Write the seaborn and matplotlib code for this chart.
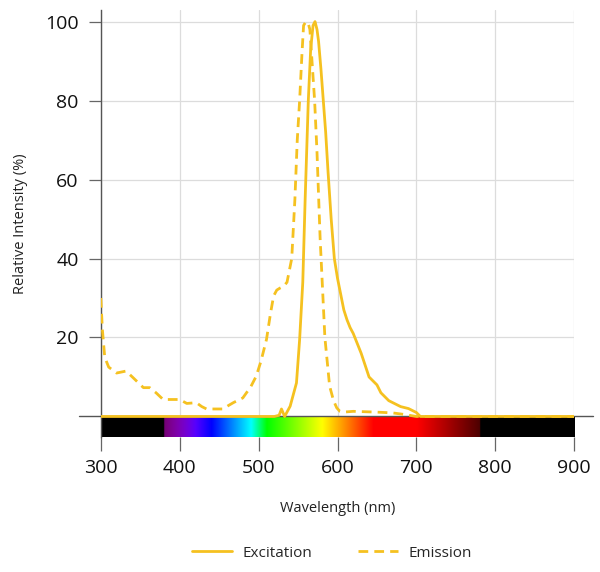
import numpy as np
import pandas as pd
import matplotlib
matplotlib.use("Agg")
import matplotlib.pyplot as plt
import seaborn as sns

# ---- data ----
exc_wl = [300, 520, 526, 529, 533, 540, 548, 552, 556, 559, 563, 566, 569, 571.5, 574,
          576, 579, 582, 585, 588, 592, 596, 600, 604, 608, 612, 616, 620, 625, 630,
          635, 640, 645, 650, 655, 660, 665, 670, 680, 690, 700, 705, 900]
exc_val = [0, 0, 0.3, 1.9, 0, 2.6, 8.5, 19.5, 34, 55, 80, 93, 99, 100, 98,
           95, 88, 80, 72, 62, 50, 40, 35, 31, 27, 24.5, 22.5, 21, 18.5, 16,
           13, 10, 9, 8, 6, 5, 4, 3.5, 2.5, 2, 1, 0, 0]

em_wl = [300, 302, 305, 310, 320, 332, 340, 354, 362, 370, 379, 390, 400, 409, 421,
         428, 434, 445, 455, 462, 468, 480, 490, 497, 503, 510, 515, 519, 523, 527,
         532, 536, 542, 546, 549, 552, 555, 557, 560, 563, 565, 568, 571, 574, 578,
         584, 590, 595, 599, 603, 607, 620, 650, 670, 685, 700, 900]
em_val = [30, 22, 15, 12.5, 11, 11.5, 10, 7.3, 7.3, 6, 4.3, 4.3, 4.3, 3.3, 3.5,
          2.5, 1.9, 1.9, 1.9, 2.8, 3.5, 4.7, 7.5, 10.2, 14, 19.5, 26, 30.5, 32, 32.5,
          33, 34, 40, 55, 70, 80, 92, 99, 100, 99.5, 98, 89, 80, 67, 45,
          20, 7.7, 4, 2.2, 1.3, 1.1, 1.3, 1.1, 0.9, 0.5, 0, 0]

x_ticks = [300, 400, 500, 600, 700, 800, 900]
y_ticks = [20, 40, 60, 80, 100]
series_names = ["Excitation", "Emission"]

COLOR = "#F5C120"

sns.set_theme(style="white")
plt.rcParams["font.family"] = ["Open Sans", "DejaVu Sans"]

fig = plt.figure(figsize=(6.0, 5.72), dpi=100)
ax = fig.add_axes([0.168, 0.236, 0.789, 0.747])

ymin, ymax = -5.2, 103
ax.set_xlim(300, 900)
ax.set_ylim(ymin, ymax)

# grid
for xt in x_ticks:
    ax.axvline(xt, color="#dcdcdc", lw=0.9, zorder=0)
for yt in y_ticks:
    ax.axhline(yt, color="#dcdcdc", lw=0.9, zorder=0)


# spectrum bar (styling)
def wl_to_rgb(w):
    if 380 <= w < 440:
        r, g, b = -(w - 440) / 60, 0.0, 1.0
    elif 440 <= w < 490:
        r, g, b = 0.0, (w - 440) / 50, 1.0
    elif 490 <= w < 510:
        r, g, b = 0.0, 1.0, -(w - 510) / 20
    elif 510 <= w < 580:
        r, g, b = (w - 510) / 70, 1.0, 0.0
    elif 580 <= w < 645:
        r, g, b = 1.0, -(w - 645) / 65, 0.0
    elif 645 <= w <= 780:
        r, g, b = 1.0, 0.0, 0.0
    else:
        return (0, 0, 0)
    if w < 420:
        f = 0.45 + 0.55 * (w - 380) / 40
    elif w > 700:
        f = 0.3 + 0.7 * (780 - w) / 80
    else:
        f = 1.0
    return (r * f, g * f, b * f)

wls = np.linspace(300, 900, 1200)
img = np.array([[wl_to_rgb(w) for w in wls]])
ax.imshow(img, extent=[300, 900, ymin, -0.3], aspect="auto", zorder=1,
          interpolation="bilinear")

# zero line extended beyond axes
ax.axhline(0, xmin=-0.045, xmax=1.04, color="#555555", lw=1.0, clip_on=False, zorder=2)

df_exc = pd.DataFrame({"wl": exc_wl, "val": exc_val})
df_em = pd.DataFrame({"wl": em_wl, "val": em_val})
sns.lineplot(data=df_exc, x="wl", y="val", ax=ax, color=COLOR, lw=2.0,
             label=series_names[0], zorder=4, sort=True)
sns.lineplot(data=df_em, x="wl", y="val", ax=ax, color=COLOR, lw=2.0,
             linestyle=(0, (3.5, 2.2)), label=series_names[1], zorder=3, sort=True)

ax.set_xticks(x_ticks)
ax.set_yticks(y_ticks)
ax.tick_params(axis="x", labelsize=14, colors="#111111", length=10, width=0.9,
               direction="out", pad=6, bottom=True)
ax.tick_params(axis="y", labelsize=14, colors="#111111", length=9, width=0.9,
               direction="out", pad=7, left=True)
for lab in ax.get_xticklabels() + ax.get_yticklabels():
    lab.set_color("#111111")
ax.tick_params(axis="both", color="#666666")

for s in ["top", "right", "bottom"]:
    ax.spines[s].set_visible(False)
ax.spines["left"].set_color("#555555")
ax.spines["left"].set_linewidth(1.0)

ax.set_xlabel("Wavelength (nm)", fontsize=10.5, color="#222222", labelpad=17)
ax.set_ylabel("Relative Intensity (%)", fontsize=10.5, color="#222222", labelpad=12)

ax.get_legend().remove()
handles, labels = ax.get_legend_handles_labels()
fig.legend(handles, labels, loc="center", bbox_to_anchor=(0.553, 0.033), ncol=2,
           frameon=False, fontsize=11, handlelength=2.6, columnspacing=3.0,
           handletextpad=0.7)

fig.savefig("out.png", dpi=100)
